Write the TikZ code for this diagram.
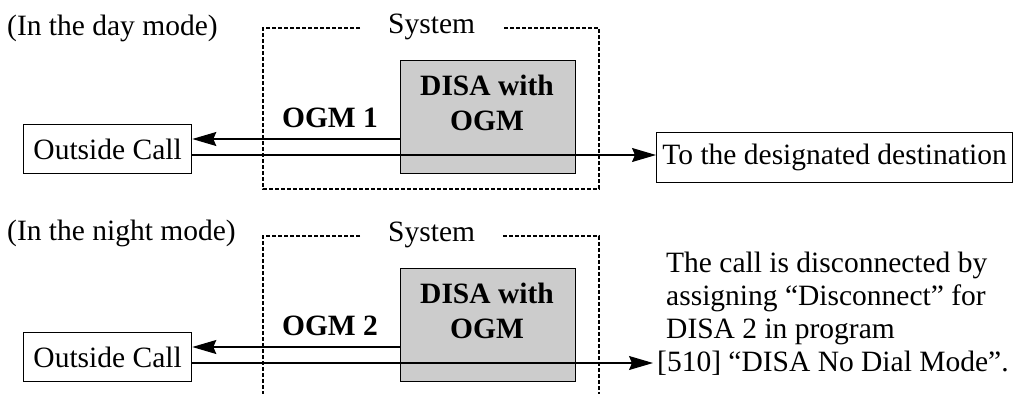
\documentclass[tikz,border=0pt]{standalone}
\usepackage{fontspec}
\setmainfont{Liberation Serif}
\usetikzlibrary{arrows.meta}
\begin{document}
\begin{tikzpicture}[x=1pt,y=-1pt,
  txt/.style={font=\fontsize{29.5}{33}\selectfont, inner sep=0pt},
  btxt/.style={font=\fontsize{29.5}{33}\selectfont\bfseries, inner sep=0pt},
  bx/.style={draw, line width=1.3pt, inner sep=0pt, font=\fontsize{29.5}{33}\selectfont},
  sysbox/.style={draw, line width=1.3pt, dash pattern=on 4pt off 2pt},
  arr/.style={line width=1.2pt, -{Stealth[length=24pt,width=14pt,inset=3pt]}}]
\useasboundingbox (0,0) rectangle (1013,394);
% ---------- day mode ----------
\node[txt, anchor=base west] (dayl) at (7,35) {(In the day mode)};
\node[txt, anchor=base west] (sys1) at (388,33) {System};
\draw[sysbox] (360,28) -| (263,189) -| (599,28) -- (503,28);
\node[bx, fill=black!20, minimum width=175pt, minimum height=113pt, anchor=north west] (disa1) at (400,60) {};
\node[btxt, anchor=base] (disa1a) at (487,95) {DISA with};
\node[btxt, anchor=base] (disa1b) at (487,130) {OGM};
\node[btxt, anchor=base] (ogm1) at (330,127) {OGM 1};
\node[bx, minimum width=168pt, minimum height=49pt, anchor=north west] (oc1) at (23,124) {Outside Call};
\node[bx, minimum width=356pt, minimum height=50pt, anchor=north west] (dest1) at (656,132) {To the designated destination};
\coordinate (ya) at (0,139);
\coordinate (yb) at (0,155);
\draw[arr] (disa1.west |- ya) -- (oc1.east |- ya);
\draw[arr] (oc1.east |- yb) -- (dest1.west |- yb);
% ---------- night mode ----------
\node[txt, anchor=base west] (nightl) at (7,240) {(In the night mode)};
\node[txt, anchor=base west] (sys2) at (388,241) {System};
\draw[sysbox] (360,236) -| (263,394);
\draw[sysbox] (503,236) -| (599,394);
\node[bx, fill=black!20, minimum width=175pt, minimum height=113pt, anchor=north west] (disa2) at (400,268) {};
\node[btxt, anchor=base] (disa2a) at (487,303) {DISA with};
\node[btxt, anchor=base] (disa2b) at (487,338) {OGM};
\node[btxt, anchor=base] (ogm2) at (330,335) {OGM 2};
\node[bx, minimum width=168pt, minimum height=49pt, anchor=north west] (oc2) at (23,332) {Outside Call};
\node[txt, anchor=base west] (t1) at (666,272) {The call is disconnected by};
\node[txt, anchor=base west] (t2) at (666,305) {assigning “Disconnect” for};
\node[txt, anchor=base west] (t3) at (666,338) {DISA 2 in program};
\node[txt, anchor=base west] (t4) at (657,371) {[510] “DISA No Dial Mode”.};
\coordinate (yc) at (0,347);
\coordinate (yd) at (0,363);
\coordinate (tip) at (653,363);
\draw[arr] (disa2.west |- yc) -- (oc2.east |- yc);
\draw[arr] (oc2.east |- yd) -- (tip);
\end{tikzpicture}
\end{document}
